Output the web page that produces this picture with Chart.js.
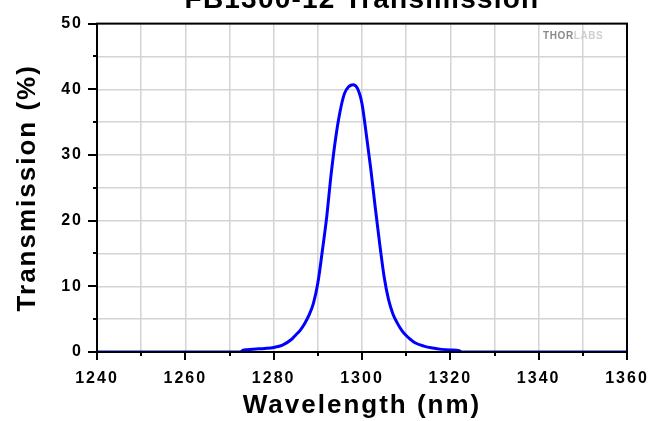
<!DOCTYPE html>
<html lang="en">
<head>
    <meta charset="UTF-8">
    <title>FB1300-12 Transmission</title>
    <script src="https://cdn.jsdelivr.net/npm/chart.js"></script>
    <style>
        body { margin: 0; background: #fff; }
        #wrap { width: 652px; height: 421px; }
    </style>
</head>
<body>
<div id="wrap">
    <canvas id="transmissionChart" width="652" height="421"></canvas>
</div>

<script>
    // Values
    const chartTitle = 'FB1300-12 Transmission';
    const wavelengths = [1240, 1272.5, 1273, 1274, 1276, 1278, 1280, 1282, 1284, 1285, 1286, 1287, 1288, 1289, 1290,
        1291, 1292, 1293, 1294, 1295, 1296, 1297, 1298, 1299, 1300, 1301, 1302, 1303, 1304, 1305,
        1306, 1307, 1308, 1309, 1310, 1311, 1312, 1314, 1316, 1318, 1320, 1322, 1322.5, 1360];
    const transmission = [0, 0, 0.25, 0.35, 0.45, 0.55, 0.7, 1.05, 1.9, 2.6, 3.3, 4.3, 5.6, 7.4, 10.5,
        15.3, 20.5, 27.0, 32.4, 36.5, 39.3, 40.4, 40.7, 40.1, 37.8, 33.0, 27.8, 22.0, 16.5, 11.5,
        8.0, 5.8, 4.4, 3.3, 2.5, 1.9, 1.4, 0.9, 0.6, 0.4, 0.3, 0.2, 0, 0];
    const xLabelStep = 20;
    const yLabelStep = 10;

    const points = wavelengths.map((w, i) => ({x: w, y: transmission[i]}));

    const fontFamily = '"Liberation Sans", Arial, sans-serif';

    // frame, tick marks, title and watermark
    const decorations = {
        id: 'decorations',
        beforeDraw(chart) {
            chart.ctx.letterSpacing = '2px';
        },
        afterDraw(chart) {
            const ctx = chart.ctx;
            const a = chart.chartArea;
            const xs = chart.scales.x, ys = chart.scales.y;
            ctx.save();
            ctx.strokeStyle = '#000';
            ctx.lineWidth = 2;
            ctx.beginPath();
            xs.ticks.forEach(t => {
                const px = Math.round(xs.getPixelForValue(t.value));
                const len = t.value % xLabelStep === 0 ? 8 : 4;
                ctx.moveTo(px, a.bottom);
                ctx.lineTo(px, a.bottom + len);
            });
            ys.ticks.forEach(t => {
                const py = Math.round(ys.getPixelForValue(t.value));
                const len = t.value % yLabelStep === 0 ? 9 : 4;
                ctx.moveTo(a.left, py);
                ctx.lineTo(a.left - len, py);
            });
            ctx.stroke();
            ctx.strokeRect(a.left, a.top, a.right - a.left, a.bottom - a.top);

            ctx.fillStyle = '#000';
            ctx.letterSpacing = '1.2px';
            ctx.font = 'bold 28px ' + fontFamily;
            ctx.textAlign = 'center';
            ctx.textBaseline = 'alphabetic';
            ctx.fillText(chartTitle, (a.left + a.right) / 2, 8);

            ctx.font = 'bold 10px ' + fontFamily;
            ctx.textAlign = 'left';
            ctx.textBaseline = 'middle';
            ctx.letterSpacing = '0.6px';
            ctx.fillStyle = '#8a8a8a';
            ctx.fillText('THOR', 543, 36);
            const w = ctx.measureText('THOR').width;
            ctx.fillStyle = '#cfcfcf';
            ctx.fillText('LABS', 543 + w, 36);
            ctx.restore();
        }
    };

    const ctx = document.getElementById('transmissionChart').getContext('2d');
    const transmissionChart = new Chart(ctx, {
        type: 'line',
        data: {
            datasets: [{
                label: 'Transmission',
                data: points,
                borderColor: '#0000ff',
                borderWidth: 3,
                pointRadius: 0,
                fill: false,
                cubicInterpolationMode: 'monotone'
            }]
        },
        options: {
            responsive: false,
            animation: false,
            layout: {
                padding: {top: 22, right: 25, left: 0, bottom: 0}
            },
            plugins: {
                legend: {display: false},
                tooltip: {enabled: false}
            },
            scales: {
                x: {
                    type: 'linear',
                    min: 1240,
                    max: 1360,
                    afterFit(scale) {
                        scale.height = 69;
                        scale.paddingLeft = 0;
                        scale.paddingRight = 0;
                    },
                    grid: {color: '#d4d4d4', lineWidth: 1.5, drawTicks: false},
                    border: {display: false},
                    ticks: {
                        stepSize: 10,
                        padding: 17,
                        color: '#000',
                        maxRotation: 0,
                        autoSkip: false,
                        font: {family: fontFamily, size: 16, weight: 'bold'},
                        callback: v => v % xLabelStep === 0 ? v : ''
                    },
                    title: {
                        display: true,
                        text: 'Wavelength (nm)',
                        color: '#000',
                        padding: {top: 0, bottom: 0},
                        font: {family: fontFamily, size: 26, weight: 'bold'}
                    }
                },
                y: {
                    min: 0,
                    max: 50,
                    afterFit(scale) { scale.width = 97; },
                    grid: {color: '#d4d4d4', lineWidth: 1.5, drawTicks: false},
                    border: {display: false},
                    ticks: {
                        stepSize: 5,
                        padding: 14,
                        color: '#000',
                        autoSkip: false,
                        font: {family: fontFamily, size: 16, weight: 'bold'},
                        callback: v => v % yLabelStep === 0 ? v : ''
                    },
                    title: {
                        display: true,
                        text: 'Transmission (%)',
                        color: '#000',
                        padding: {top: 12, bottom: 0},
                        font: {family: fontFamily, size: 26, weight: 'bold'}
                    }
                }
            }
        },
        plugins: [decorations]
    });
</script>
</body>
</html>
